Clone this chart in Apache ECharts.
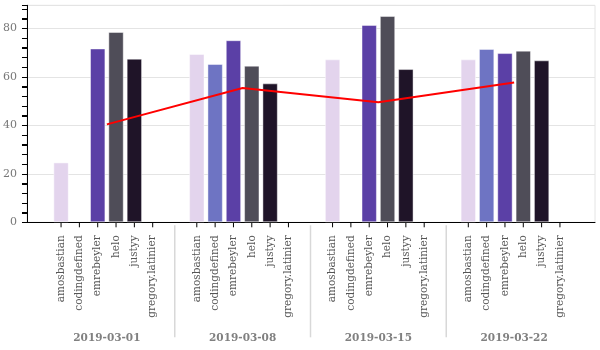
<!DOCTYPE html>
<html>
<head>
<meta charset="utf-8">
<script src="https://cdn.jsdelivr.net/npm/echarts@6/dist/echarts.min.js"></script>
<style>
  html, body { margin: 0; padding: 0; background: #fff; }
  #main { width: 600px; height: 350px; }
</style>
</head>
<body>
<div id="main"></div>
<script>
// weekly values per user (null = no bar)
const dates = ['2019-03-01', '2019-03-08', '2019-03-15', '2019-03-22']
const users = ['amosbastian', 'codingdefined', 'emrebeyler', 'helo', 'justyy', 'gregory.latinier']
const amosbastian = [24.7, 69.4, 67.2, 67.2]
const codingdefined = [null, 65.3, null, 71.5]
const emrebeyler = [71.7, 75.1, 81.4, 69.8]
const helo = [78.5, 64.6, 85.1, 70.8]
const justyy = [67.5, 57.3, 63.2, 66.8]
const gregoryLatinier = [null, null, null, null]
const average = [40.4, 55.4, 49.5, 57.7]
// small y ticks every 4 units (labels only every 20)
const yTicks = [0, 4, 8, 12, 16, 20, 24, 28, 32, 36, 40, 44, 48, 52, 56, 60, 64, 68, 72, 76, 80, 84, 88]
const yMax = 89.5

const userValues = [amosbastian, codingdefined, emrebeyler, helo, justyy, gregoryLatinier]
const colors = ['#e3d4ed', '#6e74c3', '#5b40a6', '#4f4d58', '#1f1428', '#999']

const BAR_W = 15.4
const BAR_GAP = '19%'
const FONT = 'DejaVu Serif'

// one item per (date, user) for the rotated names + ticks under the axis
const labelCells = []
dates.forEach((d, i) => users.forEach((u, j) => labelCells.push([i, j])))

const chart = echarts.init(document.getElementById('main'), null, { renderer: 'canvas' })

const barSeries = users.map((u, j) => ({
  name: u,
  type: 'bar',
  xAxisIndex: 1,
  yAxisIndex: 1,
  barWidth: BAR_W,
  barGap: BAR_GAP,
  itemStyle: {
    color: colors[j],
    borderColor: 'rgba(255,255,255,0.45)',
    borderWidth: 1
  },
  data: userValues[j]
}))

chart.setOption({
  animation: false,
  grid: [
    { left: 26, right: 5, top: 5.3, bottom: 127.7, show: true, borderColor: '#e4e4e4', borderWidth: 1 },
    { left: 39, right: 18, top: 5.3, bottom: 127.7 }
  ],
  xAxis: [
    {
      gridIndex: 0, type: 'value', min: 0, max: 1,
      axisLine: { show: true, lineStyle: { color: '#000', width: 1 } },
      axisTick: { show: false }, axisLabel: { show: false }, splitLine: { show: false }
    },
    {
      gridIndex: 1, type: 'category', data: dates,
      axisLine: { show: false }, axisTick: { show: false },
      axisLabel: {
        margin: 110, color: '#808080', fontFamily: FONT, fontWeight: 'bold', fontSize: 10.5
      }
    }
  ],
  yAxis: [
    {
      gridIndex: 0, type: 'value', position: 'left', min: 0, max: yMax, interval: 20,
      axisLine: { show: true, lineStyle: { color: '#000' } },
      axisTick: { show: true, length: 5, lineStyle: { color: '#000' } },
      minorTick: { show: true, splitNumber: 5, length: 5, lineStyle: { color: '#000' } },
      axisLabel: { margin: 10, color: '#777', fontFamily: FONT, fontSize: 11, showMaxLabel: false },
      splitLine: { lineStyle: { color: '#e4e4e4', width: 1 } }
    },
    { gridIndex: 1, type: 'value', min: 0, max: yMax, show: false }
  ],
  series: [
    ...barSeries,
    {
      name: 'average',
      type: 'line',
      xAxisIndex: 1,
      yAxisIndex: 1,
      data: average,
      showSymbol: false,
      lineStyle: { color: '#ff0000', width: 2 },
      z: 5
    },
    {
      // y axis tick marks
      type: 'custom',
      xAxisIndex: 0,
      yAxisIndex: 0,
      clip: false,
      silent: true,
      z: 10,
      data: yTicks.map(v => [0, v]),
      renderItem(params, api) {
        const p = api.coord([0, api.value(1)])
        return {
          type: 'line',
          shape: { x1: p[0] - 5, y1: Math.round(p[1]) + 0.5, x2: p[0], y2: Math.round(p[1]) + 0.5 },
          style: { stroke: '#000', lineWidth: 1 }
        }
      }
    },
    {
      // user names + ticks under the axis, group separators
      type: 'custom',
      xAxisIndex: 1,
      yAxisIndex: 1,
      clip: false,
      silent: true,
      data: labelCells,
      renderItem(params, api) {
        const i = api.value(0)
        const j = api.value(1)
        const base = api.coord([i, 0])
        const layout = api.barLayout({ barWidth: BAR_W, barGap: BAR_GAP, count: users.length })
        const x = base[0] + layout[j].offsetCenter
        const y = base[1]
        const children = [
          {
            type: 'line',
            shape: { x1: x, y1: y, x2: x, y2: y + 5 },
            style: { stroke: '#000', lineWidth: 1 }
          },
          {
            type: 'text',
            x: x,
            y: y + 13,
            rotation: Math.PI / 2,
            style: {
              text: users[j],
              fill: '#555',
              font: '10.5px "' + FONT + '"',
              align: 'right',
              verticalAlign: 'middle'
            }
          }
        ]
        if (j === 0 && i > 0) {
          const sx = base[0] - api.size([1, 0])[0] / 2
          children.push({
            type: 'line',
            shape: { x1: sx, y1: y + 3, x2: sx, y2: y + 115 },
            style: { stroke: '#d8d8d8', lineWidth: 1.5 }
          })
        }
        return { type: 'group', children }
      }
    }
  ]
})
</script>
</body>
</html>
